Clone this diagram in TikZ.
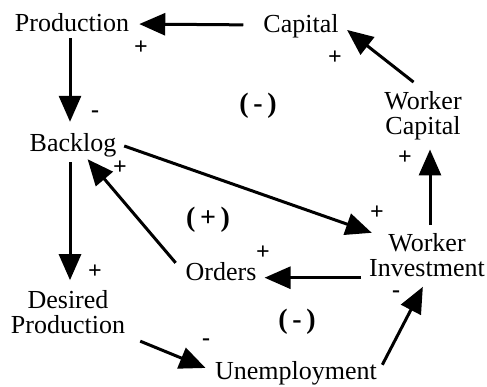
\documentclass[tikz,border=0pt]{standalone}
\usepackage{fontspec}
\setmainfont{Liberation Serif}
\usepackage{tikz}
\usetikzlibrary{arrows.meta}

\tikzset{
    var/.style={inner sep=2pt, text height=18pt, text depth=2pt,
        font=\fontsize{26pt}{25pt}\selectfont},
    var2/.style={inner sep=2pt, align=center,
        font=\fontsize{26pt}{25pt}\selectfont},
    link/.style={-{Triangle[length=26pt,width=22pt]}, line width=3pt},
    sgn/.style={inner sep=0pt, font=\fontsize{24pt}{24pt}\selectfont\bfseries},
    loopsgn/.style={inner sep=0pt, font=\fontsize{28pt}{28pt}\selectfont\bfseries}
}

\begin{document}
\begin{tikzpicture}[x=1pt,y=-1pt]
    \useasboundingbox (0,0) rectangle (487,387);

    %% variables
    \node[var] (prod) at (72,24) {Production};
    \node[var] (cap) at (301,25) {Capital};
    \node[var2] (wcap) at (423,116) {Worker\\Capital};
    \node[var] (back) at (73,144) {Backlog};
    \node[var2] (wint) at (427,255) {Worker\\Investment};
    \node[var] (orders) at (221,272) {Orders};
    \node[var2] (desired) at (68,312) {Desired\\Production};
    \node[var] (unemp) at (296,371) {Unemployment};

    %% links
    \draw[link, shorten <=18pt, shorten >=8pt] (cap.west) -- (prod.east);
    \draw[link, shorten <=2pt, shorten >=10pt] ([xshift=-2pt]prod.south) -- ([xshift=-2pt]prod.south |- back.north);
    \draw[link, shorten <=12pt, shorten >=8pt] (wcap.north) -- (cap.east);
    \draw[link, shorten <=6pt, shorten >=7pt] ([xshift=3pt]wint.north) -- ([xshift=3pt]wint.north |- wcap.south);
    \draw[link, shorten <=6pt, shorten >=-5pt] (back.east) -- (wint.north west);
    \draw[link, shorten <=12pt, shorten >=4pt] (orders.west) -- ([xshift=12pt]back.south);
    \draw[link, shorten <=6pt, shorten >=8pt] ([xshift=-3pt]back.south) -- ([xshift=-3pt]back.south |- desired.north);
    \draw[link, shorten <=6pt, shorten >=6pt] (wint.west |- orders.mid east) -- (orders.mid east);
    \draw[link, shorten <=14pt, shorten >=8pt] (desired.south east) -- (unemp.west);
    \draw[link, shorten <=7pt, shorten >=9pt] (unemp.east) -- (wint.south);

    %% polarities
    \node[sgn] (s1) at (141,48) {+};
    \node[sgn] (s2) at (95,114) {-};
    \node[sgn] (s3) at (335,58) {+};
    \node[sgn] (s4) at (405,158) {+};
    \node[sgn] (s5) at (120,168) {+};
    \node[sgn] (s6) at (95,272) {+};
    \node[sgn] (s7) at (377,213) {+};
    \node[sgn] (s8) at (263,253) {+};
    \node[sgn] (s9) at (396,294) {-};
    \node[sgn] (s10) at (206,342) {-};

    %% loops
    \node[loopsgn] (l1) at (258,106) {(\,-\,)};
    \node[loopsgn] (l2) at (208,220) {(\,+\,)};
    \node[loopsgn] (l3) at (297,322) {(\,-\,)};
\end{tikzpicture}
\end{document}
